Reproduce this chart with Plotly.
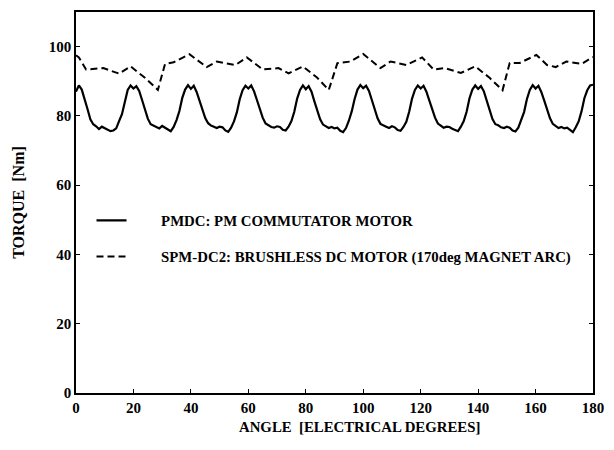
import plotly.graph_objects as go

# PMDC: PM commutator motor (solid), sampled every 1 electrical degree, 0..180
pmdc_angle = list(range(0, 181))
pmdc_torque = [
    87.0, 88.8, 87.6, 85.0, 82.0, 79.0, 77.6, 77.0, 76.2, 76.9, 76.5, 76.2, 75.6, 75.8, 76.4, 78.5, 80.5, 84.0, 87.5, 88.8,
    87.9, 88.6, 87.2, 84.6, 81.8, 79.2, 77.6, 77.2, 76.6, 76.4, 77.1, 76.6, 75.9, 75.6, 76.8, 78.8, 81.4, 85.2, 87.6, 88.9,
    87.8, 88.7, 86.9, 84.3, 81.6, 79.4, 77.9, 77.2, 76.9, 76.5, 76.9, 76.7, 75.8, 75.4, 76.6, 78.4, 81.0, 84.8, 87.4, 88.7,
    87.9, 88.8, 87.1, 84.5, 82.0, 79.5, 77.8, 77.3, 76.8, 76.6, 77.0, 76.8, 76.0, 75.8, 76.9, 78.5, 81.2, 85.0, 87.5, 88.8,
    87.7, 88.6, 87.0, 84.2, 81.5, 79.0, 77.5, 77.1, 76.5, 76.8, 76.4, 76.6, 75.7, 75.3, 76.5, 78.6, 81.3, 84.9, 87.6, 88.9,
    88.0, 88.7, 87.2, 84.6, 81.9, 79.3, 77.7, 77.4, 76.9, 76.5, 77.0, 76.7, 75.9, 75.7, 76.8, 78.3, 81.2, 85.0, 87.5, 88.8,
    87.9, 88.7, 87.0, 84.5, 82.0, 79.5, 77.8, 77.1, 76.6, 76.9, 76.8, 76.3, 75.9, 75.6, 76.9, 78.5, 81.2, 85.1, 87.6, 88.8,
    87.8, 88.6, 87.1, 84.4, 81.7, 79.1, 77.6, 77.3, 76.7, 76.5, 76.9, 76.6, 75.8, 75.5, 76.6, 78.6, 81.1, 84.9, 87.5, 88.9,
    87.9, 88.7, 86.9, 84.5, 81.8, 79.4, 77.7, 77.2, 76.5, 76.8, 76.4, 76.6, 75.8, 75.3, 76.7, 78.4, 81.3, 85.1, 87.4, 88.8,
    89.0,
]

# SPM-DC2: brushless DC motor (dashed)
spm_angle = [0, 1, 3.5, 9.5, 15, 19, 24, 28.5, 31, 34, 39.5, 45.5, 49, 55.5, 59.5, 65, 70.5, 74, 79, 84, 88,
             91, 95.5, 100, 106, 109.5, 115, 120.5, 124.5, 128.5, 134, 139, 144, 148.5, 151, 154.5, 160.3,
             164, 167, 170.7, 176, 180]
spm_torque = [97.5, 96.9, 93.4, 93.8, 92.2, 94.3, 91.0, 87.5, 95.0, 95.5, 97.8, 94.1, 95.7, 94.7, 96.9, 93.4,
              93.8, 92.3, 94.3, 91.0, 87.5, 95.2, 95.7, 97.9, 93.8, 95.7, 94.7, 96.9, 93.4, 93.8, 92.4, 94.3,
              91.0, 87.4, 95.3, 95.3, 97.6, 94.7, 94.1, 95.7, 95.0, 97.0]

series_names = ["PMDC: PM COMMUTATOR MOTOR", "SPM-DC2: BRUSHLESS DC MOTOR (170deg MAGNET ARC)"]
x_ticks = [0, 20, 40, 60, 80, 100, 120, 140, 160, 180]
y_ticks = [0, 20, 40, 60, 80, 100]
x_title = "ANGLE  [ELECTRICAL DEGREES]"
y_title = "TORQUE  [Nm]"

FONT = "Liberation Serif"
PAD = "\u00a0" * 8

fig = go.Figure()
fig.add_trace(go.Scatter(x=pmdc_angle, y=pmdc_torque, mode="lines", name=PAD + series_names[0],
                         legendgroup="a", line=dict(color="black", width=2.2)))
fig.add_trace(go.Scatter(x=spm_angle, y=spm_torque, mode="lines", name=PAD + series_names[1],
                         legendgroup="b", line=dict(color="black", width=2, dash="7px,4px")))

fig.update_layout(
    width=614, height=450,
    margin=dict(l=76, r=17, t=10, b=57),
    paper_bgcolor="white", plot_bgcolor="white",
    font=dict(family=FONT, color="black", size=14),
    showlegend=True,
    legend=dict(x=0.03, y=0.405, xanchor="left", yanchor="middle",
                bgcolor="rgba(0,0,0,0)", tracegroupgap=14, itemwidth=30,
                font=dict(family=FONT, size=14.8, color="black", weight="bold")),
    xaxis=dict(range=[0, 180], tickvals=x_ticks, ticks="inside", ticklen=4, tickcolor="black",
               showline=True, linecolor="black", linewidth=1.5, mirror=True, showgrid=False, zeroline=False,
               tickfont=dict(family=FONT, size=15, color="black", weight="bold")),
    yaxis=dict(range=[0, 110], tickvals=y_ticks, ticks="inside", ticklen=4, tickcolor="black",
               showline=True, linecolor="black", linewidth=1.5, mirror="ticks", showgrid=False, zeroline=False,
               tickfont=dict(family=FONT, size=15, color="black", weight="bold"),
               title=dict(text=y_title, font=dict(family=FONT, size=16, weight="bold"), standoff=20)),
    annotations=[dict(text=x_title, xref="paper", yref="paper", x=0.549, y=-0.089,
                      xanchor="center", yanchor="middle", showarrow=False,
                      font=dict(family=FONT, size=14.8, weight="bold", color="black"))],
)

fig.write_html("out.html")
